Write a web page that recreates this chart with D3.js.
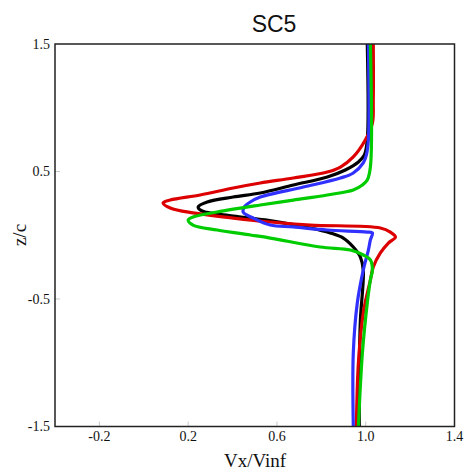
<!DOCTYPE html>
<html>
<head>
<meta charset="utf-8">
<script src="https://cdn.jsdelivr.net/npm/d3@7"></script>
<style>
  html, body { margin: 0; padding: 0; background: #fff; }
  svg { display: block; }
</style>
</head>
<body>
<svg id="chart" width="465" height="476"></svg>
<script>
// ---- data: [z/c, Vx/Vinf] pairs ----
const blackSeries = [
  [1.5, 1.007], [0.747, 1.007], [0.629, 0.994], [0.575, 0.967], [0.512, 0.908],
  [0.457, 0.827], [0.394, 0.674], [0.331, 0.525], [0.300, 0.403], [0.261, 0.286],
  [0.222, 0.245], [0.190, 0.263], [0.151, 0.403], [0.120, 0.547], [0.057, 0.750],
  [0.018, 0.840], [-0.022, 0.899], [-0.092, 0.944], [-0.171, 0.976], [-0.273, 0.989],
  [-0.665, 0.976], [-1.057, 0.971], [-1.5, 0.971]
];
const redSeries = [
  [1.5, 1.034], [1.061, 1.034], [0.880, 1.030], [0.747, 0.998], [0.614, 0.944],
  [0.535, 0.886], [0.496, 0.827], [0.449, 0.674], [0.410, 0.525], [0.371, 0.403],
  [0.316, 0.254], [0.276, 0.119], [0.253, 0.087], [0.214, 0.119], [0.175, 0.222],
  [0.135, 0.403], [0.104, 0.570], [0.080, 0.750], [0.057, 1.066], [0.025, 1.111],
  [-0.014, 1.134], [-0.061, 1.102], [-0.139, 1.066], [-0.249, 1.034], [-0.351, 1.021],
  [-0.610, 0.989], [-1.002, 0.967], [-1.5, 0.958]
];
const blueSeries = [
  [1.5, 1.012], [0.747, 1.012], [0.630, 1.003], [0.567, 0.989], [0.488, 0.944],
  [0.449, 0.886], [0.378, 0.719], [0.300, 0.525], [0.261, 0.480], [0.222, 0.453],
  [0.182, 0.448], [0.135, 0.493], [0.080, 0.570], [0.065, 0.674], [0.041, 0.827],
  [0.025, 1.007], [0.018, 1.030], [-0.037, 1.021], [-0.116, 1.012], [-0.273, 0.989],
  [-0.531, 0.962], [-0.924, 0.944], [-1.5, 0.944]
];
const greenSeries = [
  [1.5, 1.021], [0.535, 1.021], [0.433, 1.007], [0.394, 0.985], [0.355, 0.944],
  [0.316, 0.827], [0.276, 0.674], [0.237, 0.525], [0.182, 0.331], [0.143, 0.222],
  [0.120, 0.200], [0.080, 0.222], [0.041, 0.331], [0.002, 0.480], [-0.022, 0.570],
  [-0.092, 0.795], [-0.116, 0.931], [-0.155, 0.989], [-0.194, 1.021], [-0.273, 1.030],
  [-0.351, 1.021], [-0.531, 1.007], [-0.924, 0.985], [-1.5, 0.967]
];
const seriesColors = ["#000000", "#dd0000", "#3030ff", "#00cc00"];
const xTicks = [-0.2, 0.2, 0.6, 1.0, 1.4];
const yTicks = [1.5, 0.5, -0.5, -1.5];
const titleText = "SC5";
const xLabel = "Vx/Vinf";
const yLabel = "z/c";

// ---- layout ----
const svg = d3.select("#chart");
const L = 55, R = 454.5, T = 44, B = 426.5;
const x = d3.scaleLinear().domain([-0.4, 1.4]).range([L, R]);
const y = d3.scaleLinear().domain([-1.5, 1.5]).range([B, T]);

// ticks (light grey, inward)
const tickG = svg.append("g");
tickG.selectAll("line.xt").data(xTicks.slice(0, -1)).join("line")
  .attr("x1", d => x(d)).attr("x2", d => x(d))
  .attr("y1", B).attr("y2", B - 5)
  .attr("stroke", "#c8c8c8").attr("stroke-width", 1);
tickG.selectAll("line.yt").data([0.5, -0.5]).join("line")
  .attr("x1", L).attr("x2", L + 5)
  .attr("y1", d => y(d)).attr("y2", d => y(d))
  .attr("stroke", "#c8c8c8").attr("stroke-width", 1);

// clip
svg.append("clipPath").attr("id", "clip")
  .append("rect").attr("x", L).attr("y", T).attr("width", R - L).attr("height", B - T);

const line = d3.line()
  .x(d => x(d[1]))
  .y(d => y(d[0]))
  .curve(d3.curveCatmullRom.alpha(0.5));

const allSeries = [blackSeries, redSeries, blueSeries, greenSeries];
svg.append("g").attr("clip-path", "url(#clip)")
  .selectAll("path").data(allSeries).join("path")
  .attr("d", d => line(d))
  .attr("fill", "none")
  .attr("stroke", (d, i) => seriesColors[i])
  .attr("stroke-width", 3.2)
  .attr("stroke-linejoin", "round")
  .attr("stroke-linecap", "round");

// frame
svg.append("rect")
  .attr("x", L).attr("y", T).attr("width", R - L).attr("height", B - T)
  .attr("fill", "none").attr("stroke", "#222").attr("stroke-width", 1.5);

// tick labels
svg.append("g").selectAll("text").data(xTicks).join("text")
  .attr("x", d => x(d)).attr("y", 441)
  .attr("text-anchor", "middle")
  .attr("font-family", "'Liberation Serif', 'Times New Roman', serif")
  .attr("font-size", 14)
  .attr("fill", "#111")
  .text(d => d.toFixed(1));
svg.append("g").selectAll("text").data(yTicks).join("text")
  .attr("x", 50).attr("y", d => y(d) + 4.5)
  .attr("text-anchor", "end")
  .attr("font-family", "'Liberation Serif', 'Times New Roman', serif")
  .attr("font-size", 14)
  .attr("fill", "#111")
  .text(d => d.toFixed(1));

// title
svg.append("text")
  .attr("x", 274).attr("y", 32)
  .attr("text-anchor", "middle")
  .attr("font-family", "'Liberation Sans', Arial, sans-serif")
  .attr("font-size", 23)
  .attr("fill", "#111")
  .text(titleText);

// axis labels
svg.append("text")
  .attr("x", 255).attr("y", 467)
  .attr("text-anchor", "middle")
  .attr("font-family", "'Liberation Serif', 'Times New Roman', serif")
  .attr("font-size", 19)
  .attr("fill", "#111")
  .text(xLabel);
svg.append("text")
  .attr("transform", "translate(26,235) rotate(-90)")
  .attr("text-anchor", "middle")
  .attr("font-family", "'Liberation Serif', 'Times New Roman', serif")
  .attr("font-size", 19)
  .attr("fill", "#111")
  .text(yLabel);
</script>
</body>
</html>
